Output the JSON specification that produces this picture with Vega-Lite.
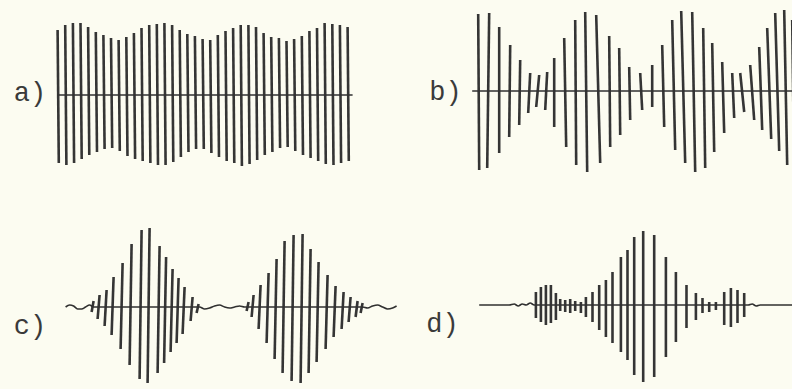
{
  "$schema": "https://vega.github.io/schema/vega-lite/v6.json",
  "background": "#fcfcf1",
  "padding": {"left": 12.6, "top": 7, "right": 0, "bottom": 0},
  "spacing": 50,
  "datasets": {
    "a": [
      {"t1": 0, "t2": 1.2, "crest": 65, "trough": -68},
      {"t1": 7.6, "t2": 8.8, "crest": 70, "trough": -70},
      {"t1": 15.3, "t2": 16.5, "crest": 72, "trough": -68},
      {"t1": 22.9, "t2": 24.1, "crest": 72, "trough": -64},
      {"t1": 30.5, "t2": 31.7, "crest": 68, "trough": -60},
      {"t1": 38.2, "t2": 39.4, "crest": 63, "trough": -57},
      {"t1": 45.8, "t2": 47, "crest": 60, "trough": -54},
      {"t1": 53.4, "t2": 54.6, "crest": 57, "trough": -53},
      {"t1": 61, "t2": 62.2, "crest": 55, "trough": -56},
      {"t1": 68.7, "t2": 69.9, "crest": 58, "trough": -61},
      {"t1": 76.3, "t2": 77.5, "crest": 62, "trough": -64},
      {"t1": 83.9, "t2": 85.1, "crest": 67, "trough": -66},
      {"t1": 91.6, "t2": 92.8, "crest": 70, "trough": -68},
      {"t1": 99.2, "t2": 100.4, "crest": 71, "trough": -70},
      {"t1": 106.8, "t2": 108, "crest": 72, "trough": -70},
      {"t1": 114.5, "t2": 115.7, "crest": 70, "trough": -67},
      {"t1": 122.1, "t2": 123.3, "crest": 65, "trough": -62},
      {"t1": 129.7, "t2": 130.9, "crest": 61, "trough": -57},
      {"t1": 137.3, "t2": 138.5, "crest": 59, "trough": -54},
      {"t1": 145, "t2": 146.2, "crest": 56, "trough": -54},
      {"t1": 152.6, "t2": 153.8, "crest": 55, "trough": -58},
      {"t1": 160.2, "t2": 161.4, "crest": 60, "trough": -62},
      {"t1": 167.9, "t2": 169.1, "crest": 64, "trough": -66},
      {"t1": 175.5, "t2": 176.7, "crest": 67, "trough": -68},
      {"t1": 183.1, "t2": 184.3, "crest": 70, "trough": -71},
      {"t1": 190.8, "t2": 192, "crest": 70, "trough": -69},
      {"t1": 198.4, "t2": 199.6, "crest": 68, "trough": -65},
      {"t1": 206, "t2": 207.2, "crest": 62, "trough": -60},
      {"t1": 213.6, "t2": 214.8, "crest": 58, "trough": -57},
      {"t1": 221.3, "t2": 222.5, "crest": 57, "trough": -53},
      {"t1": 228.9, "t2": 230.1, "crest": 54, "trough": -52},
      {"t1": 236.5, "t2": 237.7, "crest": 56, "trough": -56},
      {"t1": 244.2, "t2": 245.4, "crest": 59, "trough": -60},
      {"t1": 251.8, "t2": 253, "crest": 64, "trough": -63},
      {"t1": 259.4, "t2": 260.6, "crest": 67, "trough": -66},
      {"t1": 267, "t2": 268.2, "crest": 72, "trough": -69},
      {"t1": 274.7, "t2": 275.9, "crest": 71, "trough": -70},
      {"t1": 282.3, "t2": 283.5, "crest": 70, "trough": -68},
      {"t1": 290, "t2": 291.2, "crest": 68, "trough": -66}
    ],
    "b": [
      {"t1": 6, "t2": 7, "crest": 77, "trough": -79},
      {"t1": 17, "t2": 15, "crest": 78, "trough": -77},
      {"t1": 27, "t2": 27, "crest": 64, "trough": -62},
      {"t1": 38, "t2": 37, "crest": 46, "trough": -46},
      {"t1": 48, "t2": 47, "crest": 31, "trough": -34},
      {"t1": 58, "t2": 56, "crest": 18, "trough": -22},
      {"t1": 67, "t2": 64, "crest": 16, "trough": -16},
      {"t1": 75, "t2": 73, "crest": 19, "trough": -19},
      {"t1": 82, "t2": 82, "crest": 33, "trough": -36},
      {"t1": 92, "t2": 94, "crest": 53, "trough": -56},
      {"t1": 103, "t2": 104, "crest": 71, "trough": -74},
      {"t1": 113, "t2": 115, "crest": 79, "trough": -81},
      {"t1": 124, "t2": 128, "crest": 76, "trough": -72},
      {"t1": 137, "t2": 138, "crest": 55, "trough": -56},
      {"t1": 147, "t2": 148, "crest": 43, "trough": -44},
      {"t1": 157, "t2": 158, "crest": 24, "trough": -29},
      {"t1": 168, "t2": 170, "crest": 18, "trough": -19},
      {"t1": 180, "t2": 180, "crest": 26, "trough": -16},
      {"t1": 190, "t2": 192, "crest": 46, "trough": -36},
      {"t1": 200, "t2": 203, "crest": 71, "trough": -59},
      {"t1": 209, "t2": 213, "crest": 80, "trough": -72},
      {"t1": 220, "t2": 223, "crest": 79, "trough": -81},
      {"t1": 231, "t2": 233, "crest": 63, "trough": -77},
      {"t1": 240, "t2": 242, "crest": 48, "trough": -61},
      {"t1": 250, "t2": 252, "crest": 29, "trough": -42},
      {"t1": 260, "t2": 262, "crest": 18, "trough": -27},
      {"t1": 268, "t2": 272, "crest": 18, "trough": -21},
      {"t1": 278, "t2": 282, "crest": 26, "trough": -29},
      {"t1": 287, "t2": 290, "crest": 44, "trough": -39},
      {"t1": 295, "t2": 299, "crest": 63, "trough": -48},
      {"t1": 303, "t2": 307, "crest": 78, "trough": -60},
      {"t1": 312, "t2": 315, "crest": 81, "trough": -74},
      {"t1": 320, "t2": 322, "crest": 71, "trough": -81}
    ],
    "c": [
      {"t1": 28, "t2": 26, "crest": 6, "trough": -5},
      {"t1": 34, "t2": 32, "crest": 12, "trough": -12},
      {"t1": 41, "t2": 39, "crest": 17, "trough": -19},
      {"t1": 48, "t2": 46, "crest": 30, "trough": -28},
      {"t1": 57, "t2": 55, "crest": 44, "trough": -42},
      {"t1": 66, "t2": 64, "crest": 63, "trough": -58},
      {"t1": 76, "t2": 74, "crest": 77, "trough": -72},
      {"t1": 84, "t2": 82, "crest": 79, "trough": -76},
      {"t1": 94, "t2": 92, "crest": 61, "trough": -66},
      {"t1": 100.5, "t2": 98.5, "crest": 50, "trough": -56},
      {"t1": 107, "t2": 105, "crest": 38, "trough": -45},
      {"t1": 113, "t2": 111, "crest": 29, "trough": -36},
      {"t1": 119, "t2": 117, "crest": 20, "trough": -27},
      {"t1": 127, "t2": 125, "crest": 10, "trough": -14},
      {"t1": 133, "t2": 131, "crest": 3, "trough": -6},
      {"t1": 183, "t2": 181, "crest": 5, "trough": -4},
      {"t1": 188, "t2": 186, "crest": 12, "trough": -10},
      {"t1": 195, "t2": 193, "crest": 22, "trough": -22},
      {"t1": 203, "t2": 201, "crest": 34, "trough": -36},
      {"t1": 211, "t2": 209, "crest": 48, "trough": -52},
      {"t1": 219, "t2": 217, "crest": 66, "trough": -66},
      {"t1": 228, "t2": 226, "crest": 72, "trough": -74},
      {"t1": 237, "t2": 235, "crest": 73, "trough": -76},
      {"t1": 245, "t2": 243, "crest": 58, "trough": -66},
      {"t1": 253, "t2": 251, "crest": 45, "trough": -55},
      {"t1": 262, "t2": 260, "crest": 32, "trough": -42},
      {"t1": 270, "t2": 268, "crest": 21, "trough": -30},
      {"t1": 278, "t2": 276, "crest": 15, "trough": -22},
      {"t1": 285, "t2": 283, "crest": 10, "trough": -15},
      {"t1": 292, "t2": 290, "crest": 6, "trough": -10},
      {"t1": 297, "t2": 295, "crest": 4, "trough": -6}
    ],
    "cTrace": [
      {"t": 0, "v": 0}, {"t": 4, "v": 2}, {"t": 8, "v": 1}, {"t": 12, "v": -2}, {"t": 16, "v": -2}, {"t": 20, "v": 0}, {"t": 24, "v": 2}, {"t": 28, "v": 0},
      {"t": 134, "v": 0}, {"t": 139, "v": -2}, {"t": 144, "v": -1}, {"t": 149, "v": 1}, {"t": 154, "v": 2}, {"t": 159, "v": 0}, {"t": 164, "v": -1}, {"t": 169, "v": 0}, {"t": 174, "v": 1}, {"t": 179, "v": 0}, {"t": 183, "v": 0},
      {"t": 297, "v": 0}, {"t": 302, "v": -1}, {"t": 307, "v": 1}, {"t": 312, "v": 2}, {"t": 317, "v": 0}, {"t": 322, "v": -2}, {"t": 327, "v": -1}, {"t": 331, "v": 1}
    ],
    "d": [
      {"t1": 56.7, "t2": 56.7, "crest": 13, "trough": -13},
      {"t1": 61.7, "t2": 61.7, "crest": 18, "trough": -17},
      {"t1": 66.7, "t2": 66.7, "crest": 20, "trough": -20},
      {"t1": 71.7, "t2": 71.7, "crest": 20, "trough": -18},
      {"t1": 76.7, "t2": 76.7, "crest": 12, "trough": -15},
      {"t1": 81, "t2": 81, "crest": 6, "trough": -6},
      {"t1": 86, "t2": 86, "crest": 5, "trough": -7},
      {"t1": 91, "t2": 91, "crest": 6, "trough": -8},
      {"t1": 96, "t2": 96, "crest": 4, "trough": -6},
      {"t1": 101.7, "t2": 101.7, "crest": 3, "trough": -8},
      {"t1": 106.7, "t2": 106.7, "crest": 8, "trough": -12},
      {"t1": 113.3, "t2": 113.3, "crest": 13, "trough": -17},
      {"t1": 120, "t2": 120, "crest": 20, "trough": -25},
      {"t1": 126.7, "t2": 126.7, "crest": 25, "trough": -32},
      {"t1": 133.3, "t2": 133.3, "crest": 33, "trough": -38},
      {"t1": 141.7, "t2": 141.7, "crest": 48, "trough": -47},
      {"t1": 148.3, "t2": 148.3, "crest": 55, "trough": -55},
      {"t1": 155, "t2": 155, "crest": 68, "trough": -70},
      {"t1": 164, "t2": 164, "crest": 74, "trough": -77},
      {"t1": 175, "t2": 175, "crest": 70, "trough": -72},
      {"t1": 186.7, "t2": 186.7, "crest": 48, "trough": -52},
      {"t1": 196.7, "t2": 196.7, "crest": 33, "trough": -37},
      {"t1": 207.3, "t2": 207.3, "crest": 20, "trough": -23},
      {"t1": 216.7, "t2": 216.7, "crest": 12, "trough": -15},
      {"t1": 223.3, "t2": 223.3, "crest": 7, "trough": -8},
      {"t1": 230, "t2": 230, "crest": 3, "trough": -7},
      {"t1": 236.7, "t2": 236.7, "crest": 3, "trough": -5},
      {"t1": 245, "t2": 245, "crest": 13, "trough": -20},
      {"t1": 251.7, "t2": 251.7, "crest": 17, "trough": -22},
      {"t1": 258.3, "t2": 258.3, "crest": 15, "trough": -18},
      {"t1": 265, "t2": 265, "crest": 12, "trough": -12}
    ],
    "dTrace": [
      {"t": 0, "v": 0}, {"t": 30, "v": 0}, {"t": 35, "v": 1}, {"t": 39, "v": -1}, {"t": 43, "v": 1}, {"t": 47, "v": 0}, {"t": 51, "v": 2}, {"t": 55, "v": 0},
      {"t": 265, "v": 0}, {"t": 269, "v": 0}, {"t": 273, "v": 1}, {"t": 277, "v": -1}, {"t": 281, "v": 0}, {"t": 317, "v": 0}
    ]
  },
  "vconcat": [
    {
      "spacing": 74.6,
      "hconcat": [
        {
          "width": 295, "height": 168,
          "layer": [
            {
              "data": {"name": "a"},
              "mark": {"type": "rule", "strokeWidth": 2.6, "color": "#353535"},
              "encoding": {
                "x": {"field": "t1", "type": "quantitative", "scale": {"domain": [0, 295], "nice": false, "zero": false}, "axis": null},
                "x2": {"field": "t2"},
                "y": {"field": "crest", "type": "quantitative", "scale": {"domain": [-80, 88], "nice": false, "zero": false}, "axis": {"title": "a)", "titlePadding": 12, "titleY": 85}},
                "y2": {"field": "trough"}
              }
            },
            {
              "data": {"values": [{}]},
              "mark": {"type": "rule", "strokeWidth": 1.3, "color": "#303030"},
              "encoding": {"y": {"datum": 0, "type": "quantitative", "axis": {"title": "a)", "titlePadding": 12, "titleY": 85}}}
            }
          ]
        },
        {
          "width": 322, "height": 168,
          "layer": [
            {
              "data": {"name": "b"},
              "mark": {"type": "rule", "strokeWidth": 2.6, "color": "#353535"},
              "encoding": {
                "x": {"field": "t1", "type": "quantitative", "scale": {"domain": [0, 322], "nice": false, "zero": false}, "axis": null},
                "x2": {"field": "t2"},
                "y": {"field": "crest", "type": "quantitative", "scale": {"domain": [-84, 84], "nice": false, "zero": false}, "axis": {"title": "b)", "titlePadding": 11, "titleY": 84}},
                "y2": {"field": "trough"}
              }
            },
            {
              "data": {"values": [{}]},
              "mark": {"type": "rule", "strokeWidth": 1.3, "color": "#303030"},
              "encoding": {"y": {"datum": 0, "type": "quantitative", "axis": {"title": "b)", "titlePadding": 11, "titleY": 84}}}
            }
          ]
        }
      ]
    },
    {
      "spacing": 24.6,
      "hconcat": [
        {
          "width": 340, "height": 164,
          "layer": [
            {
              "data": {"name": "c"},
              "mark": {"type": "rule", "strokeWidth": 2.6, "color": "#353535"},
              "encoding": {
                "x": {"field": "t1", "type": "quantitative", "scale": {"domain": [-8, 332], "nice": false, "zero": false}, "axis": null},
                "x2": {"field": "t2"},
                "y": {"field": "crest", "type": "quantitative", "scale": {"domain": [-82, 82], "nice": false, "zero": false}, "axis": {"title": "c)", "titlePadding": 12, "titleY": 101}},
                "y2": {"field": "trough"}
              }
            },
            {
              "data": {"name": "cTrace"},
              "mark": {"type": "line", "strokeWidth": 1.6, "color": "#303030", "interpolate": "monotone"},
              "encoding": {
                "x": {"field": "t", "type": "quantitative", "axis": null},
                "y": {"field": "v", "type": "quantitative", "axis": {"title": "c)", "titlePadding": 12, "titleY": 101}}
              }
            }
          ]
        },
        {
          "width": 317, "height": 164,
          "layer": [
            {
              "data": {"name": "d"},
              "mark": {"type": "rule", "strokeWidth": 2.6, "color": "#353535"},
              "encoding": {
                "x": {"field": "t1", "type": "quantitative", "scale": {"domain": [0, 317], "nice": false, "zero": false}, "axis": null},
                "x2": {"field": "t2"},
                "y": {"field": "crest", "type": "quantitative", "scale": {"domain": [-84, 80], "nice": false, "zero": false}, "axis": {"title": "d)", "titlePadding": 21, "titleY": 99}},
                "y2": {"field": "trough"}
              }
            },
            {
              "data": {"name": "dTrace"},
              "mark": {"type": "line", "strokeWidth": 1.6, "color": "#303030", "interpolate": "monotone"},
              "encoding": {
                "x": {"field": "t", "type": "quantitative", "axis": null},
                "y": {"field": "v", "type": "quantitative", "axis": {"title": "d)", "titlePadding": 21, "titleY": 99}}
              }
            }
          ]
        }
      ]
    }
  ],
  "config": {
    "view": {"stroke": null},
    "axisY": {
      "domain": false, "ticks": false, "labels": false, "grid": false,
      "titleAngle": 0, "titleAlign": "right", "titleBaseline": "middle",
      "titleFont": "Liberation Mono", "titleFontSize": 27, "titleFontWeight": "normal", "titleColor": "#3a3a3a"
    }
  }
}
